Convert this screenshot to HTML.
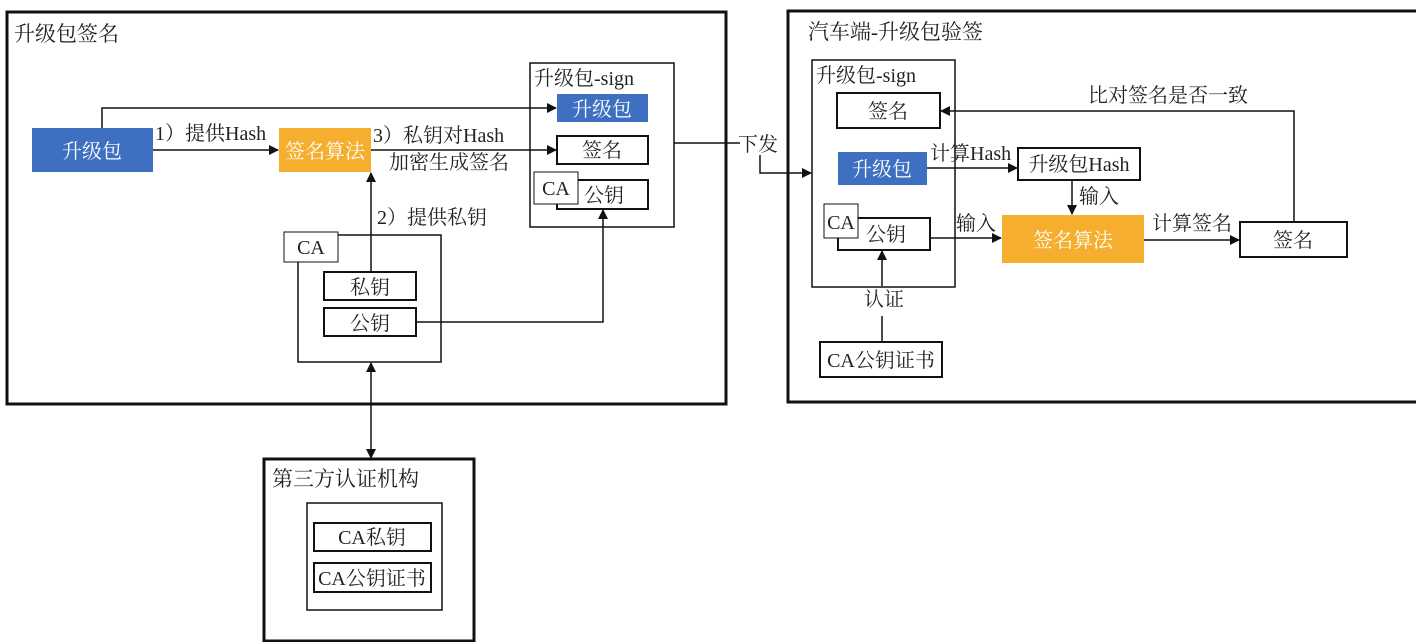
<!DOCTYPE html>
<html><head><meta charset="utf-8"><style>
html,body{margin:0;padding:0;background:#fff;}
svg{display:block;}
text{font-family:"Liberation Serif","Noto Serif CJK SC",serif;font-size:20px;fill:#222;}
.w{fill:#fff;}
.t{font-size:21px;}
</style></head><body>
<svg width="1416" height="642" viewBox="0 0 1416 642" xmlns="http://www.w3.org/2000/svg">
<defs>
<marker id="a" markerWidth="10" markerHeight="10" refX="9" refY="5" orient="auto" markerUnits="userSpaceOnUse">
<path d="M0,0 L10,5 L0,10 z" fill="#111"/></marker>
<marker id="s" markerWidth="10" markerHeight="10" refX="1" refY="5" orient="auto" markerUnits="userSpaceOnUse">
<path d="M10,0 L0,5 L10,10 z" fill="#111"/></marker>
</defs>
<g fill="none" stroke="#111">
<rect x="7" y="12" width="719" height="392" stroke-width="3"/>
<rect x="788" y="11" width="630" height="391" stroke-width="3"/>
<rect x="264" y="459" width="210" height="182" stroke-width="3"/>
</g>
<text x="14" y="41" class="t">升级包签名</text>
<text x="808" y="39" class="t">汽车端-升级包验签</text>
<text x="272" y="486" class="t">第三方认证机构</text>

<!-- left -->
<rect x="32" y="128" width="121" height="44" fill="#3f6fc0"/>
<text x="92" y="158" text-anchor="middle" class="w" font-size="21">升级包</text>
<rect x="279" y="128" width="92" height="44" fill="#f5ae2e"/>
<text x="325" y="158" text-anchor="middle" class="w" font-size="21">签名算法</text>
<g fill="none" stroke="#111" stroke-width="1.5">
<rect x="530" y="63" width="144" height="164"/>
<rect x="557" y="136" width="91" height="28" stroke-width="2"/>
<rect x="557" y="180" width="91" height="29" stroke-width="2"/>
<rect x="298" y="235" width="143" height="127"/>
<rect x="324" y="272" width="92" height="28" stroke-width="2"/>
<rect x="324" y="308" width="92" height="28" stroke-width="2"/>
</g>
<rect x="534" y="172" width="44" height="32" fill="#fff" stroke="#111"/>
<rect x="284" y="232" width="54" height="30" fill="#fff" stroke="#111"/>
<rect x="557" y="94" width="91" height="28" fill="#3f6fc0"/>
<text x="534" y="85">升级包-sign</text>
<text x="602" y="116" text-anchor="middle" class="w">升级包</text>
<text x="602" y="157" text-anchor="middle">签名</text>
<text x="556" y="195" text-anchor="middle">CA</text>
<text x="604" y="202" text-anchor="middle">公钥</text>
<text x="311" y="254" text-anchor="middle">CA</text>
<text x="370" y="294" text-anchor="middle">私钥</text>
<text x="370" y="330" text-anchor="middle">公钥</text>
<text x="155" y="140">1）提供Hash</text>
<text x="373" y="142">3）私钥对Hash</text>
<text x="389" y="169">加密生成签名</text>
<text x="377" y="224">2）提供私钥</text>
<g fill="none" stroke="#111" stroke-width="1.5">
<path d="M102,128 V108 H556" marker-end="url(#a)"/>
<path d="M153,150 H278" marker-end="url(#a)"/>
<path d="M371,150 H556" marker-end="url(#a)"/>
<path d="M371,272 V173" marker-end="url(#a)"/>
<path d="M416,322 H603 V210" marker-end="url(#a)"/>
<path d="M371,363 V458" marker-start="url(#s)" marker-end="url(#a)"/>
<path d="M674,143 H740"/>
<path d="M760,155 V173 H811" marker-end="url(#a)"/>
</g>
<text x="738" y="151">下发</text>

<!-- bottom -->
<g fill="none" stroke="#111" stroke-width="1.5">
<rect x="307" y="503" width="135" height="107"/>
<rect x="314" y="523" width="117" height="28" stroke-width="2"/>
<rect x="314" y="563" width="117" height="29" stroke-width="2"/>
</g>
<text x="372" y="544" text-anchor="middle">CA私钥</text>
<text x="372" y="585" text-anchor="middle">CA公钥证书</text>

<!-- right -->
<g fill="none" stroke="#111" stroke-width="1.5">
<rect x="812" y="60" width="143" height="227"/>
<rect x="837" y="93" width="103" height="35" stroke-width="2"/>
<rect x="838" y="218" width="92" height="32" stroke-width="2"/>
<rect x="1018" y="148" width="122" height="32" stroke-width="2"/>
<rect x="1240" y="222" width="107" height="35" stroke-width="2"/>
<rect x="820" y="342" width="122" height="35" stroke-width="2"/>
</g>
<rect x="824" y="204" width="34" height="34" fill="#fff" stroke="#111"/>
<rect x="838" y="152" width="89" height="33" fill="#3f6fc0"/>
<rect x="1002" y="215" width="142" height="48" fill="#f5ae2e"/>
<text x="816" y="82">升级包-sign</text>
<text x="888" y="118" text-anchor="middle">签名</text>
<text x="882" y="176" text-anchor="middle" class="w">升级包</text>
<text x="841" y="229" text-anchor="middle">CA</text>
<text x="886" y="241" text-anchor="middle">公钥</text>
<text x="1079" y="171" text-anchor="middle">升级包Hash</text>
<text x="1073" y="247" text-anchor="middle" class="w" font-size="21">签名算法</text>
<text x="1293" y="247" text-anchor="middle">签名</text>
<text x="881" y="367" text-anchor="middle">CA公钥证书</text>
<text x="1088" y="102">比对签名是否一致</text>
<text x="930" y="160">计算Hash</text>
<text x="1079" y="203">输入</text>
<text x="956" y="230">输入</text>
<text x="1152" y="230">计算签名</text>
<text x="864" y="306">认证</text>
<g fill="none" stroke="#111" stroke-width="1.5">
<path d="M1294,221 V111 H941" marker-end="url(#a)"/>
<path d="M927,168 H1017" marker-end="url(#a)"/>
<path d="M1072,180 V214" marker-end="url(#a)"/>
<path d="M930,238 H1001" marker-end="url(#a)"/>
<path d="M1144,240 H1239" marker-end="url(#a)"/>
<path d="M882,286 V251" marker-end="url(#a)"/>
<path d="M882,316 V342"/>
</g>
</svg>
</body></html>
